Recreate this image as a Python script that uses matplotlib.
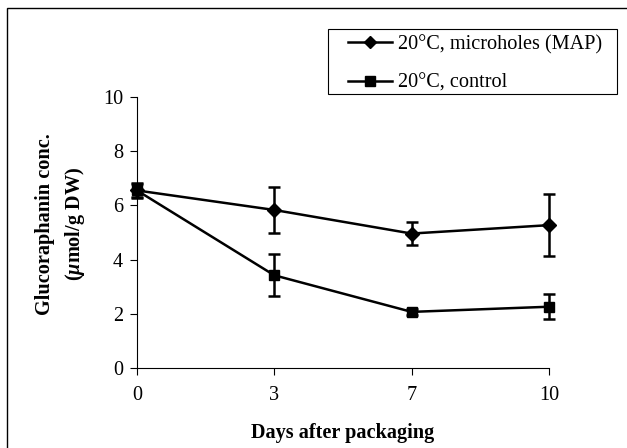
import matplotlib.pyplot as plt
from matplotlib.lines import Line2D
from matplotlib.patches import Rectangle

# Data
days = ['0', '3', '7', '10']
map_mean = [6.55, 5.83, 4.96, 5.27]
map_err = [0.28, 0.85, 0.44, 1.14]
ctrl_mean = [6.55, 3.42, 2.07, 2.26]
ctrl_err = [0.25, 0.78, 0.1, 0.47]
labels = ['20°C, microholes (MAP)', '20°C, control']

plt.rcParams['font.family'] = ['Liberation Serif', 'DejaVu Serif']
plt.rcParams['mathtext.fontset'] = 'custom'
plt.rcParams['mathtext.it'] = 'Liberation Serif:italic:bold'
plt.rcParams['mathtext.rm'] = 'Liberation Serif:bold'

fs = 14.6

fig = plt.figure(figsize=(6.27, 4.48), dpi=100)
ax = fig.add_axes([0.2185, 0.1786, 0.657, 0.605])

x = list(range(len(days)))
for mean, err, mk in [(map_mean, map_err, 'D'), (ctrl_mean, ctrl_err, 's')]:
    cont = ax.errorbar(x, mean, yerr=err, color='black', marker=mk, markersize=7.5,
                       linewidth=1.8, elinewidth=1.8, capsize=4.3, capthick=1.8)
    # keep caps at the first and last day fully visible
    for art in cont.lines[1] + cont.lines[2] + (cont.lines[0],):
        art.set_clip_on(False)

ax.set_xlim(0, 3)
ax.set_ylim(0, 10)
ax.set_xticks(x)
ax.set_xticklabels(days)
ax.set_yticks([0, 2, 4, 6, 8, 10])
ax.tick_params(labelsize=fs, direction='out', length=5, width=0.8)
ax.tick_params(axis='y', pad=5)
ax.tick_params(axis='x', pad=8)
for s in ['top', 'right']:
    ax.spines[s].set_visible(False)
for s in ['left', 'bottom']:
    ax.spines[s].set_linewidth(0.8)

ax.set_xlabel('Days after packaging', fontsize=fs, fontweight='bold', labelpad=13)
fig.text(0.072, 0.5, 'Glucoraphanin conc.', rotation=90, fontsize=fs,
         fontweight='bold', ha='center', va='center')
fig.text(0.12, 0.5, r'($\mu$mol/g DW)', rotation=90, fontsize=fs,
         fontweight='bold', ha='center', va='center')

# legend without error bars, boxed separately
handles = [Line2D([], [], color='black', marker='D', markersize=6.5, linewidth=1.8),
           Line2D([], [], color='black', marker='s', markersize=6.5, linewidth=1.8)]
fig.legend(handles, labels, loc='upper left', bbox_to_anchor=(0.555, 0.922),
           fontsize=fs, frameon=False, handlelength=2.15, handletextpad=0.3,
           borderpad=0, borderaxespad=0, labelspacing=0.95)
fig.patches.append(Rectangle((0.523, 0.790), 0.461, 0.145, transform=fig.transFigure,
                             fill=False, edgecolor='black', linewidth=0.8))

# outer border of the figure
fig.patches.append(Rectangle((0.011, -0.1), 1.2, 1.082, transform=fig.transFigure,
                             fill=False, edgecolor='black', linewidth=1.0))

fig.savefig('out.png', dpi=100)
